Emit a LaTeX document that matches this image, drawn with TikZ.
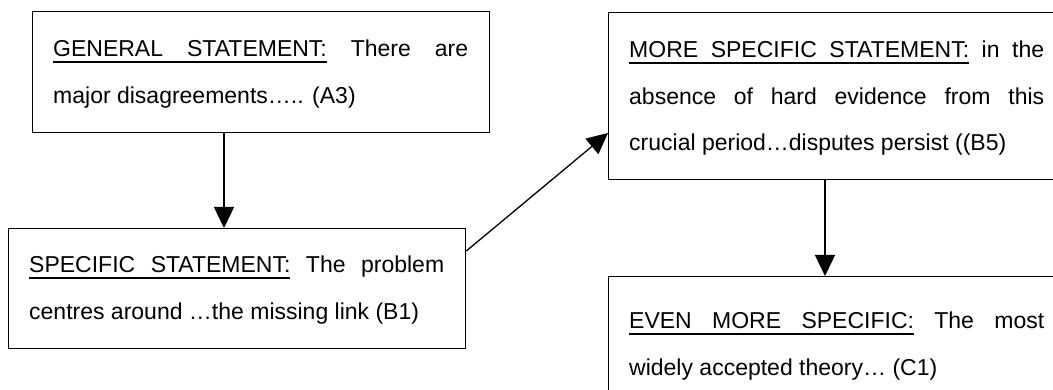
\documentclass[tikz,border=0pt]{standalone}
\usepackage{fontspec}
\setmainfont{Liberation Sans}
\usetikzlibrary{arrows.meta}
% underlined word, and an underlined interword space that stretches like a normal one
\newcommand{\ulw}[1]{\setbox0=\hbox{#1}\rlap{\rule[-5.9pt]{\wd0}{1.7pt}}\box0\relax}
\newcommand{\ulsp}{\leaders\hrule height -4.2pt depth 5.9pt\hskip\fontdimen2\font plus\fontdimen3\font minus\fontdimen4\font\relax}
% a justified line (spaces stretched to the full width) and a ragged last line
\newcommand{\fullline}[1]{\hbox to \linewidth{#1}}
\newcommand{\lastline}[1]{\hbox{#1}}
\tikzset{
  stmt/.style={draw, line width=1.3pt, rectangle, inner sep=0pt, anchor=north west,
    minimum width=457pt},
  txt/.style={inner sep=0pt, anchor=base west, font=\fontsize{23pt}{46.5pt}\selectfont},
  arr/.style={line width=1.3pt, -{Triangle[length=21pt,width=20pt]}}
}
\begin{document}
\begin{tikzpicture}[x=1pt,y=-1pt]
\clip (0,0) rectangle (1053,390);
\fill[white] (0,0) rectangle (1053,390);

% statement boxes
\node[stmt, minimum height=121pt] (a) at (32,11) {};
\node[stmt, minimum height=120pt] (b) at (8,228) {};
\node[stmt, minimum height=167pt] (c) at (608,12) {};
\node[stmt, minimum height=167pt] (d) at (608,276) {};

% their texts
\node[txt] (ta) at ([shift={(21pt,-46pt)}]a.north west) {\parbox[t]{415pt}{%
  \fullline{\ulw{GENERAL}\ulsp\ulw{STATEMENT:} There are}
  \lastline{major disagreements….. (A3)}}};
\node[txt] (tb) at ([shift={(21pt,-45pt)}]b.north west) {\parbox[t]{415pt}{%
  \fullline{\ulw{SPECIFIC}\ulsp\ulw{STATEMENT:} The problem}
  \lastline{centres around …the missing link (B1)}}};
\node[txt] (tc) at ([shift={(21pt,-46pt)}]c.north west) {\parbox[t]{415pt}{%
  \fullline{\ulw{MORE}\ulsp\ulw{SPECIFIC}\ulsp\ulw{STATEMENT:} in the}
  \fullline{absence of hard evidence from this}
  \lastline{crucial period…disputes persist ((B5)}}};
\node[txt] (td) at ([shift={(21pt,-53pt)}]d.north west) {\parbox[t]{415pt}{%
  \fullline{\ulw{EVEN}\ulsp\ulw{MORE}\ulsp\ulw{SPECIFIC:} The most}
  \lastline{widely accepted theory… (C1)}}};

% connectors
\draw[arr] ([xshift=192pt]a.south west) -- ([xshift=216pt]b.north west);
\draw[arr] ([yshift=-23pt]b.north east) -- ([yshift=-121pt]c.north west);
\draw[arr] ([xshift=217pt]c.south west) -- ([xshift=217pt]d.north west);
\end{tikzpicture}
\end{document}
